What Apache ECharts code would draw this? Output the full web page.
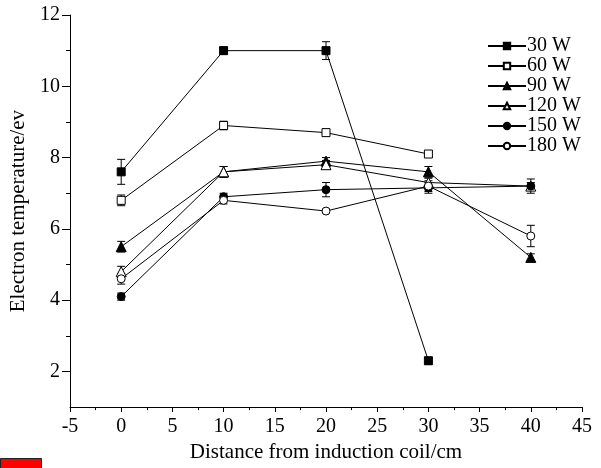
<!DOCTYPE html>
<html>
<head>
<meta charset="utf-8">
<title>Electron temperature</title>
<script src="https://cdn.jsdelivr.net/npm/echarts@6/dist/echarts.min.js"></script>
<style>
  html, body { margin: 0; padding: 0; background: #fff; }
  #chart { width: 601px; height: 468px; }
</style>
</head>
<body>
<div id="chart"></div>
<script>
// distance from induction coil (cm)
var distance = [0, 10, 20, 30, 40];
var seriesNames = ['30 W', '60 W', '90 W', '120 W', '150 W', '180 W'];

// electron temperature (eV), null = no measurement
var te30  = [7.6, 11.0, 11.0, 2.3, null];
var te60  = [6.8, 8.9, 8.7, 8.1, null];
var te90  = [5.5, 7.6, 7.9, 7.6, 5.2];
var te120 = [4.8, 7.6, 7.8, 7.3, 7.2];
var te150 = [4.1, 6.9, 7.1, 7.15, 7.2];
var te180 = [4.6, 6.8, 6.5, 7.2, 5.8];

// error bar half widths
var err30  = [0.35, 0.1, 0.25, 0.1, null];
var err60  = [0.15, 0.12, 0.1, 0.05, null];
var err90  = [0.15, 0.15, 0.1, 0.15, 0.1];
var err120 = [0.15, 0.15, 0.12, 0.12, 0.1];
var err150 = [0.1, 0.1, 0.2, 0.15, 0.2];
var err180 = [0.15, 0.1, 0.05, 0.15, 0.3];

var yMajor = [2, 4, 6, 8, 10, 12];
var yMinor = [3, 5, 7, 9, 11];

var values = [te30, te60, te90, te120, te150, te180];
var errors = [err30, err60, err90, err120, err150, err180];
var symbols = ['rect', 'rect', 'triangle', 'triangle', 'circle', 'circle'];
var filled = [true, false, true, false, true, false];
var sizes = [8, 8, 10, 10, 8, 8];

var font = '"Liberation Serif", "Times New Roman", serif';

var errData = [];
values.forEach(function (vals, i) {
  vals.forEach(function (v, j) {
    if (v == null) return;
    var e = errors[i][j];
    errData.push([distance[j], v - e, v + e]);
  });
});

var series = [{
  type: 'custom',
  name: 'err',
  z: 1,
  silent: true,
  data: errData,
  renderItem: function (params, api) {
    var x = api.value(0);
    var lo = api.coord([x, api.value(1)]);
    var hi = api.coord([x, api.value(2)]);
    var w = 4;
    var st = { stroke: '#000', lineWidth: 1 };
    return {
      type: 'group',
      children: [
        { type: 'line', shape: { x1: lo[0], y1: lo[1], x2: hi[0], y2: hi[1] }, style: st },
        { type: 'line', shape: { x1: lo[0] - w, y1: lo[1], x2: lo[0] + w, y2: lo[1] }, style: st },
        { type: 'line', shape: { x1: hi[0] - w, y1: hi[1], x2: hi[0] + w, y2: hi[1] }, style: st }
      ]
    };
  }
}];

seriesNames.forEach(function (name, i) {
  var pts = [];
  values[i].forEach(function (v, j) {
    if (v != null) pts.push([distance[j], v]);
  });
  series.push({
    name: name,
    type: 'line',
    z: 3,
    data: pts,
    symbol: symbols[i],
    symbolSize: sizes[i],
    showAllSymbol: true,
    lineStyle: { color: '#000', width: 1 },
    itemStyle: {
      color: filled[i] ? '#000' : '#fff',
      borderColor: '#000',
      borderWidth: 1
    },
    emphasis: { disabled: true },
    animation: false
  });
});

var chart = echarts.init(document.getElementById('chart'));
chart.setOption({
  animation: false,
  backgroundColor: '#fff',
  grid: { left: 70, right: 19, top: 15, bottom: 60 },
  legend: {
    data: seriesNames,
    orient: 'vertical',
    left: 482,
    top: 31,
    itemWidth: 38,
    itemHeight: 8,
    itemGap: 0,
    textStyle: { fontFamily: font, fontSize: 20, color: '#000', lineHeight: 20, padding: [0, 0, 0, -4] }
  },
  xAxis: {
    type: 'value',
    min: -5,
    max: 45,
    interval: 5,
    name: 'Distance from induction coil/cm',
    nameLocation: 'middle',
    nameGap: 26,
    nameTextStyle: { fontFamily: font, fontSize: 21, color: '#000' },
    axisLine: { onZero: false, lineStyle: { color: '#000', width: 1 } },
    axisTick: { length: 5, lineStyle: { color: '#000' } },
    minorTick: { show: true, splitNumber: 2, length: 3, lineStyle: { color: '#000' } },
    axisLabel: { fontFamily: font, fontSize: 20, color: '#000', margin: 10 },
    splitLine: { show: false }
  },
  yAxis: [{
    type: 'value',
    min: 1,
    max: 12,
    name: 'Electron temperature/ev',
    nameLocation: 'middle',
    nameGap: 38,
    nameTextStyle: { fontFamily: font, fontSize: 21, color: '#000' },
    axisLine: { show: true, onZero: false, lineStyle: { color: '#000', width: 1 } },
    axisTick: { show: true, length: 8, customValues: yMajor, lineStyle: { color: '#000' } },
    axisLabel: { fontFamily: font, fontSize: 20, color: '#000', margin: 10, customValues: yMajor },
    splitLine: { show: false }
  }, {
    type: 'value',
    min: 1,
    max: 12,
    position: 'left',
    axisLine: { show: false, onZero: false },
    axisTick: { show: true, length: 4, customValues: yMinor, lineStyle: { color: '#000' } },
    axisLabel: { show: false },
    splitLine: { show: false }
  }],
  graphic: [{
    type: 'rect',
    left: 0,
    top: 458,
    shape: { width: 41, height: 12 },
    style: { fill: '#ff0000', stroke: '#222', lineWidth: 1 }
  }],
  series: series
});
</script>
</body>
</html>
